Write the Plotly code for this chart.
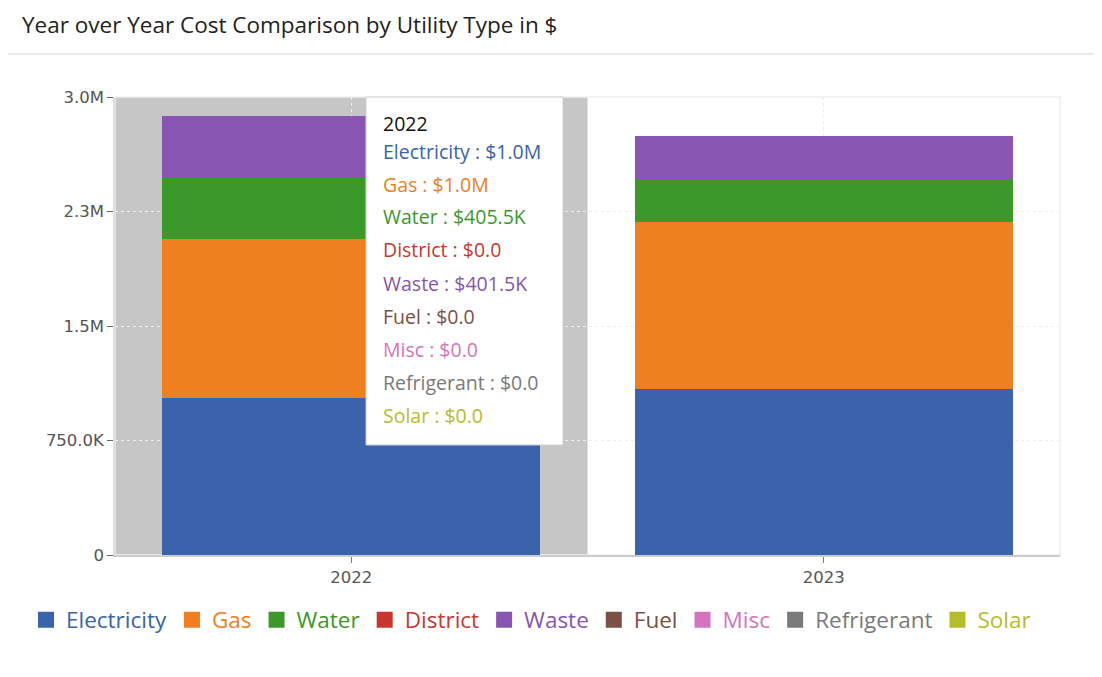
import plotly.graph_objects as go

years = ["2022", "2023"]
utilities = ["Electricity", "Gas", "Water", "District", "Waste", "Fuel", "Misc", "Refrigerant", "Solar"]
electricity = [1031000, 1087000]
gas = [1039000, 1095000]
water = [405500, 279000]
district = [0, 0]
waste = [401500, 285000]
fuel = [0, 0]
misc = [0, 0]
refrigerant = [0, 0]
solar = [0, 0]
colors = ["#3a63ab", "#ee8020", "#3d982c", "#c8372f", "#8856b1", "#7a5144", "#d573be", "#7a7a7a", "#b5bd2c"]

series = [electricity, gas, water, district, waste, fuel, misc, refrigerant, solar]
ytickvals = [0, 750000, 1500000, 2250000, 3000000]
yticktext = ["0", "750.0K", "1.5M", "2.3M", "3.0M"]

FONT = "Open Sans"
TICKFONT = "DejaVu Sans"

def fmt(v):
    if v >= 1e6:
        return f"${v/1e6:.1f}M"
    if v >= 1e3:
        return f"${v/1e3:.1f}K"
    return f"${v:.1f}"

fig = go.Figure()
for name, vals, c in zip(utilities, series, colors):
    fig.add_trace(go.Bar(x=years, y=vals, name=name, legendgroup=name, showlegend=False,
                         marker=dict(color=c, line=dict(width=0))))
for name, c in zip(utilities, colors):
    fig.add_trace(go.Scatter(x=[None], y=[None], mode="markers", legendgroup=name,
                             name=f"<span style='color:{c}'>{name}</span>",
                             marker=dict(symbol="square", size=18, color=c), hoverinfo="skip"))

OFF = 8
W, H = 1102 - OFF, 677 - OFF
L, T = 115 - OFF, 97 - OFF
R, B = W - (1060 - OFF), H - (555 - OFF)
pw, ph = W - L - R, H - T - B

def px2x(px):
    return (px - OFF - L) / pw

def px2y(py):
    return (H - B - (py - OFF)) / ph

shapes = [
    dict(type="rect", xref="x", yref="paper", x0=-0.5, x1=0.5, y0=0, y1=1,
         fillcolor="#c6c6c6", line=dict(width=0), layer="below"),
    dict(type="rect", xref="paper", yref="paper", x0=0, x1=1, y0=0, y1=1,
         line=dict(color="#efefef", width=1.5), layer="below"),
    dict(type="line", xref="paper", yref="paper", x0=px2x(-10), x1=px2x(1110), y0=px2y(54), y1=px2y(54),
         line=dict(color="#d6d6d6", width=1)),
    dict(type="rect", xref="paper", yref="paper", x0=px2x(366), x1=px2x(563), y0=px2y(97), y1=px2y(445),
         fillcolor="white", line=dict(color="#cfcfcf", width=1), layer="above"),
]

annotations = [
    dict(xref="paper", yref="paper", x=px2x(381), y=px2y(124), text=years[0], showarrow=False,
         xanchor="left", yanchor="middle", font=dict(family=FONT, size=19.5, color="#111111")),
]
for i, (name, vals, c) in enumerate(zip(utilities, series, colors)):
    annotations.append(dict(xref="paper", yref="paper", x=px2x(381), y=px2y(151 + 33 * i),
                            text=f"{name} : {fmt(vals[0])}", showarrow=False,
                            xanchor="left", yanchor="middle", font=dict(family=FONT, size=19.5, color=c)))

fig.update_layout(
    width=W, height=H,
    barmode="stack", bargap=0.2,
    paper_bgcolor="white", plot_bgcolor="white",
    margin=dict(l=L, r=R, t=T, b=B),
    font=dict(family=FONT, color="#555555"),
    title=dict(text="Year over Year Cost Comparison by Utility Type in $", xref="container", yref="container",
               x=(22 - OFF) / W, y=1 - (25 - OFF) / H, xanchor="left", yanchor="middle",
               font=dict(family=FONT, size=22.5, color="#222222")),
    xaxis=dict(type="category", showgrid=True, gridcolor="#eeeeee", griddash="dot", gridwidth=1,
               showline=True, linecolor="#cccccc", linewidth=2,
               ticks="outside", ticklen=6, tickcolor="#777777",
               tickfont=dict(family=TICKFONT, size=16.5, color="#555555")),
    yaxis=dict(range=[0, 3000000], tickvals=ytickvals, ticktext=yticktext,
               showgrid=True, gridcolor="#eeeeee", griddash="dot", gridwidth=1,
               showline=True, linecolor="#dddddd", linewidth=1.5,
               ticks="outside", ticklen=6, tickcolor="#666666", zeroline=False,
               tickfont=dict(family=TICKFONT, size=16.5, color="#555555")),
    legend=dict(orientation="h", x=px2x(26), y=px2y(620), xanchor="left", yanchor="middle",
                font=dict(family=FONT, size=22.5), traceorder="normal", itemclick=False,
                tracegroupgap=0, itemwidth=30),
    shapes=shapes,
    annotations=annotations,
    hovermode="x",
)

fig.write_html("out.html")
